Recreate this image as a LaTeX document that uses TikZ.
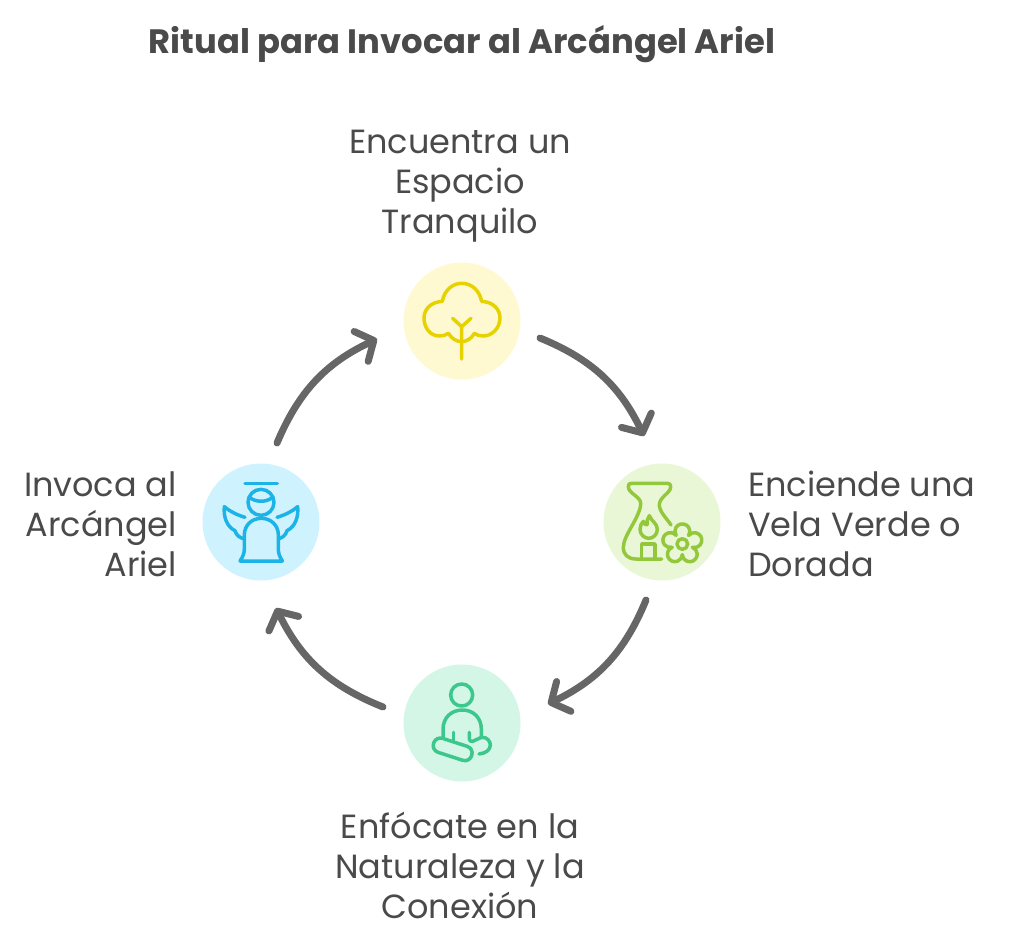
\documentclass[tikz,border=0pt]{standalone}
\usepackage{fontspec}
\setmainfont{Poppins}
\usetikzlibrary{arrows.meta}
\definecolor{txt}{HTML}{4A4A4A}
\definecolor{arw}{HTML}{666666}
\definecolor{yb}{HTML}{FFF9D2}\definecolor{ys}{HTML}{E6D200}
\definecolor{gb}{HTML}{E9F7D6}\definecolor{gs}{HTML}{94C83C}
\definecolor{mb}{HTML}{D3F6E6}\definecolor{ms}{HTML}{3CC88C}
\definecolor{bb}{HTML}{CFF2FF}\definecolor{bs}{HTML}{1CB4E6}
\tikzset{
  x=1pt,y=-1pt,
  disc/.style={circle,minimum size=117pt,inner sep=0pt,outer sep=0pt,fill=#1},
  lbl/.style={text=txt,font=\fontsize{33.5}{40}\selectfont,inner sep=0pt,align=#1},
  arc arrow/.style={draw=arw,line width=7pt,line cap=round,
    -{Straight Barb[round,length=14pt,width=33pt,line width=7pt]}},
  icon/.style={line width=3.5pt,line cap=round,line join=round,draw=#1},
  zoomed/.style={shift={#1},x=0.33333pt,y=-0.33333pt},
}
\begin{document}
\begin{tikzpicture}
\useasboundingbox (0,0) rectangle (1024,944);
\fill[white] (0,0) rectangle (1024,944);
\node[text=txt,font=\fontsize{33.8}{40}\selectfont\bfseries,inner sep=0pt] (title) at (462,44) {Ritual para Invocar al Arcángel Ariel};
\node[disc=yb] (n1) at (462,321) {};
\node[disc=gb] (n2) at (662,522) {};
\node[disc=mb] (n3) at (462,723) {};
\node[disc=bb] (n4) at (261,522) {};
\coordinate (a1s) at (540,338); \coordinate (a1e) at (644,436);
\coordinate (a2s) at (646,600); \coordinate (a2e) at (548,704);
\coordinate (a3s) at (383,707); \coordinate (a3e) at (276,608);
\coordinate (a4s) at (277,443); \coordinate (a4e) at (377,339);
\draw[arc arrow] (a1s) to[bend left=21] (a1e);
\draw[arc arrow] (a2s) to[bend left=21] (a2e);
\draw[arc arrow] (a3s) to[bend left=21] (a3e);
\draw[arc arrow] (a4s) to[bend left=21] (a4e);
\node[lbl=center] (t1) at (460,186) {Encuentra un\\Espacio\\Tranquilo};
\node[lbl=left,anchor=west] (t2) at (748,524) {Enciende una\\Vela Verde o\\Dorada};
\node[lbl=center] (t3) at (460,865) {Enfócate en la\\Naturaleza y la\\Conexión};
\node[lbl=right,anchor=east] (t4) at (177,524) {Invoca al\\Arcángel\\Ariel};
% tree
\begin{scope}[zoomed={(400,260)}]
\draw[icon=ys] (127,124) .. controls (133,90) and (158,70) .. (185,70) .. controls (214,70) and (238,90) .. (245,124)
  .. controls (280,126) and (300,148) .. (300,174) .. controls (300,205) and (275,228) .. (250,228) .. controls (240,228) and (230,226) .. (223,220)
  .. controls (215,235) and (200,245) .. (185,245) .. controls (168,245) and (155,235) .. (145,220)
  .. controls (138,226) and (128,228) .. (118,228) .. controls (92,228) and (72,205) .. (72,174) .. controls (72,148) and (92,126) .. (127,124) -- cycle;
\draw[icon=ys] (185,297) -- (185,200) (158,175) -- (185,200) -- (213,175);
\end{scope}
% candle
\begin{scope}[zoomed={(600,460)}]
\draw[icon=gs] (185,297) -- (108,297) .. controls (85,297) and (70,285) .. (70,262) .. controls (70,225) and (122,170) .. (122,130)
  .. controls (122,110) and (85,100) .. (85,80) .. controls (85,72) and (88,70) .. (95,70) -- (202,70) .. controls (209,70) and (212,73) .. (212,80)
  .. controls (212,100) and (178,110) .. (178,135) .. controls (178,155) and (200,175) .. (213,195);
\draw[icon=gs] (125,297) -- (125,252) -- (165,252) -- (165,297);
\draw[icon=gs] (148,167) .. controls (155,185) and (172,190) .. (172,208) .. controls (172,225) and (158,235) .. (146,235)
  .. controls (132,235) and (120,222) .. (120,208) .. controls (120,198) and (124,190) .. (130,184) .. controls (132,192) and (137,196) .. (141,194) .. controls (140,185) and (142,175) .. (148,167) -- cycle;
\begin{scope}[shift={(247,252)},y=0.33333pt]
\foreach \a in {90,162,234,306,18}
  \draw[icon=gs] (\a:38) ++(\a-122.6:22.3) arc[start angle=\a-122.6,delta angle=245.2,radius=22.3];
\draw[icon=gs] (0,0) circle[radius=16];
\end{scope}
\end{scope}
% meditating figure
\begin{scope}[zoomed={(400,660)}]
\draw[icon=ms] (185,105) circle[radius=33];
\draw[icon=ms] (129,232) -- (129,208) .. controls (129,172) and (155,150) .. (187,150) .. controls (219,150) and (244,172) .. (244,208) -- (244,232) -- (218,244) .. controls (212,246) and (208,242) .. (208,236) -- (208,217);
\draw[icon=ms] (160,217) -- (160,245);
\draw[icon=ms] (244,232) .. controls (262,230) and (271,245) .. (271,255) .. controls (271,270) and (257,280) .. (237,282);
\draw[icon=ms,rounded corners=7pt,rotate around={-18:(158,268)}] (98,246) rectangle (218,290);
\end{scope}
% angel
\begin{scope}[zoomed={(200,460)}]
\draw[icon=bs] (135,70) -- (232,70);
\draw[icon=bs] (183,127) circle[radius=39];
\draw[icon=bs] (150,113) .. controls (165,125) and (195,130) .. (218,112);
\draw[icon=bs] (120,303) -- (247,303) .. controls (238,288) and (235,280) .. (235,265) -- (235,225) .. controls (235,195) and (212,175) .. (184,175)
  .. controls (156,175) and (133,195) .. (133,225) -- (133,265) .. controls (133,280) and (130,288) .. (120,303);
\draw[icon=bs] (135,172) .. controls (112,165) and (90,155) .. (73,140) .. controls (70,170) and (80,200) .. (105,212) .. controls (108,225) and (120,235) .. (133,236);
\draw[icon=bs] (231,172) .. controls (254,165) and (276,155) .. (293,140) .. controls (296,170) and (286,200) .. (261,212) .. controls (258,225) and (246,235) .. (235,236);
\end{scope}
\end{tikzpicture}
\end{document}
